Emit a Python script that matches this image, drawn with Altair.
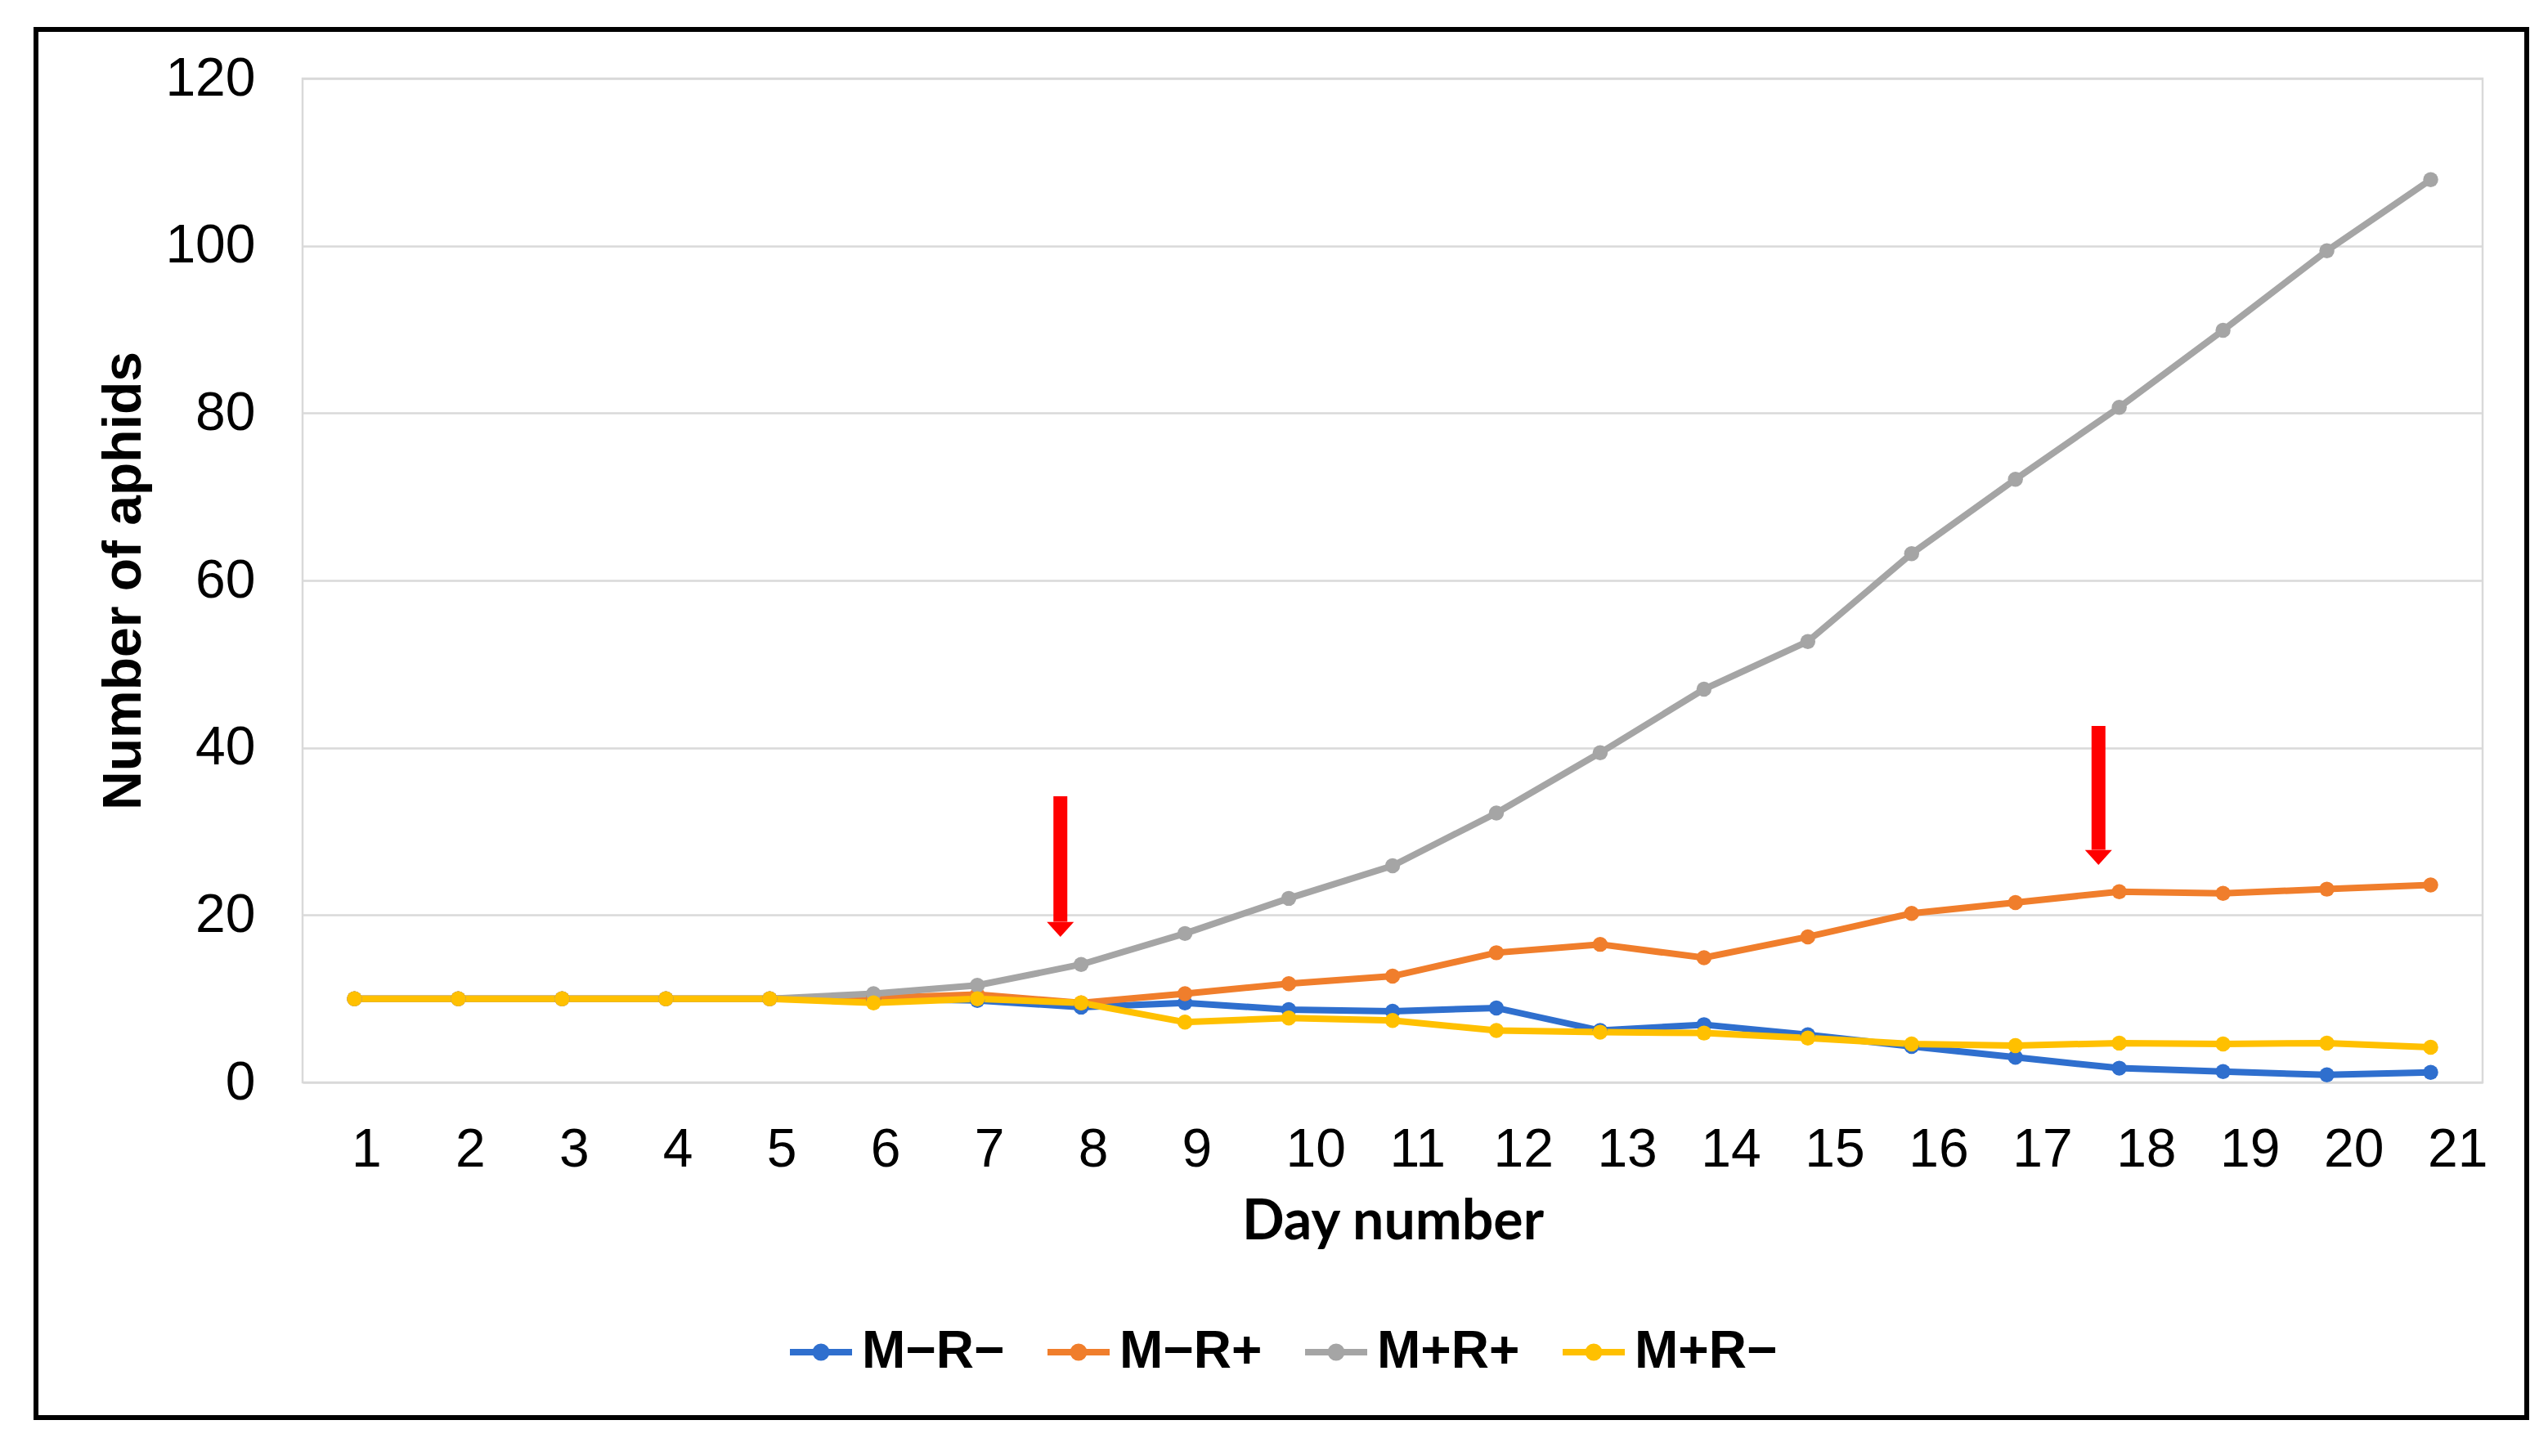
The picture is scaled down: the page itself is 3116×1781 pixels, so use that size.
import altair as alt
import pandas as pd

days = list(range(1, 22))
series_names = ["M\u2212R\u2212", "M\u2212R+", "M+R+", "M+R\u2212"]
series_colors = ["#2F6FCE", "#F07E2C", "#A5A5A5", "#FFC000"]

m_minus_r_minus = [10, 10, 10, 10, 10, 10, 9.8, 9.0, 9.5, 8.7, 8.5, 8.9, 6.2, 6.9, 5.7, 4.3, 3.0, 1.7, 1.3, 0.9, 1.2]
m_minus_r_plus = [10, 10, 10, 10, 10, 10.1, 10.5, 9.5, 10.6, 11.8, 12.7, 15.5, 16.5, 14.9, 17.4, 20.2, 21.5, 22.8, 22.6, 23.1, 23.6]
m_plus_r_plus = [10, 10, 10, 10, 10, 10.6, 11.6, 14.1, 17.8, 22.0, 25.9, 32.2, 39.4, 47.0, 52.7, 63.2, 72.1, 80.7, 89.9, 99.4, 107.9]
m_plus_r_minus = [10, 10, 10, 10, 10, 9.5, 10.0, 9.5, 7.2, 7.7, 7.4, 6.2, 6.0, 5.9, 5.3, 4.6, 4.4, 4.7, 4.6, 4.7, 4.2]

arrow_day = [7.8, 17.8]
arrow_top = [34.2, 42.6]
arrow_tip = [17.4, 26.0]

y_ticks = [0, 20, 40, 60, 80, 100, 120]

rows = []
for name, vals in zip(series_names, [m_minus_r_minus, m_minus_r_plus, m_plus_r_plus, m_plus_r_minus]):
    for d, v in zip(days, vals):
        rows.append({"day": d, "aphids": v, "series": name})
df = pd.DataFrame(rows)

arrows = pd.DataFrame({"day": arrow_day, "top": arrow_top, "tip": arrow_tip})
arrows["base"] = arrows["tip"] + 1.8

W, H = 2666, 1228

legend_symbol = ("M-1,0L1,0"
                 "M-0.17,0A0.17,0.17 0 1,1 0.17,0A0.17,0.17 0 1,1 -0.17,0"
                 "M-0.08,0A0.08,0.08 0 1,1 0.08,0A0.08,0.08 0 1,1 -0.08,0")

x_scale = alt.Scale(domain=[0.5, 21.5], nice=False, zero=False)
y_scale = alt.Scale(domain=[0, 120], nice=False)

lines = alt.Chart(df).mark_line(
    strokeWidth=8,
    point=alt.OverlayMarkDef(size=340, filled=True, opacity=1),
).encode(
    x=alt.X("day:Q", scale=x_scale, axis=alt.Axis(
        values=days, format="d", title="Day number", grid=False, domain=False, ticks=False,
        labelFont="Liberation Sans", labelFontSize=66, labelColor="black",
        labelAlign="left", labelOffset=-4, labelPadding=50, labelFlush=False,
        labelOverlap=False,
        titleFont="Lato", titleFontSize=68, titleFontWeight="bold", titleColor="black",
        titleBaseline="middle", titleY=171, titleX=W / 2)),
    y=alt.Y("aphids:Q", scale=y_scale, axis=alt.Axis(
        values=y_ticks, title="Number of aphids", grid=True, gridColor="#D9D9D9",
        gridWidth=2.5, domain=False, ticks=False,
        labelFont="Liberation Sans", labelFontSize=66, labelColor="black",
        labelPadding=58,
        titleFont="Liberation Sans", titleFontSize=66, titleFontWeight="bold",
        titleColor="black", titleAngle=270, titleBaseline="middle",
        titleX=-219, titleY=H / 2)),
    color=alt.Color("series:N", scale=alt.Scale(domain=series_names, range=series_colors),
                    sort=series_names,
                    legend=alt.Legend(
                        orient="none", legendX=592, legendY=1516, direction="horizontal",
                        columns=4, title=None, symbolType=legend_symbol,
                        symbolSize=76 * 76, symbolStrokeWidth=8, symbolOpacity=1,
                        labelFont="Liberation Sans", labelFontWeight="bold",
                        labelFontSize=64, labelColor="black", labelOffset=8,
                        columnPadding=36, labelLimit=400)),
    order=alt.Order("day:Q"),
)

shafts = alt.Chart(arrows).mark_rule(color="#FF0000", strokeWidth=17).encode(
    x=alt.X("day:Q", scale=x_scale),
    y=alt.Y("top:Q", scale=y_scale),
    y2="base:Q",
)

heads = alt.Chart(arrows).mark_point(
    shape="M-1,-1.1L1,-1.1L0,0Z", size=33 * 33, filled=True, color="#FF0000", opacity=1
).encode(
    x=alt.X("day:Q", scale=x_scale),
    y=alt.Y("tip:Q", scale=y_scale),
)

frame = alt.Chart(pd.DataFrame({"f": [0]})).mark_rect(
    fill=None, stroke="black", strokeWidth=6, clip=False
).encode(
    x=alt.value(-326), x2=alt.value(2720), y=alt.value(-60), y2=alt.value(1638)
)

chart = alt.layer(lines, shafts, heads, frame).properties(
    width=W, height=H,
    padding={"left": 33, "top": 25, "right": 5, "bottom": 5},
    background="white",
).configure_view(
    stroke="#D9D9D9", strokeWidth=2.5
)

chart.save("out.html", embed_options={"renderer": "svg", "actions": False})
